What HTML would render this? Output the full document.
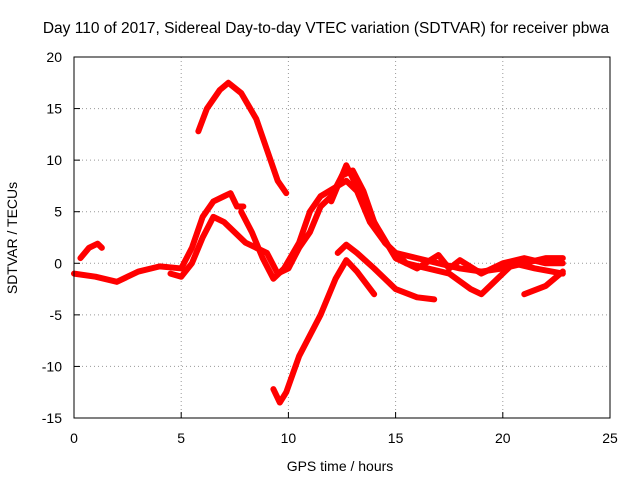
<!DOCTYPE html>
<html><head><meta charset="utf-8"><style>
body{margin:0;background:#fff}
svg{display:block;font-family:"Liberation Sans",sans-serif;font-size:14px}
</style></head><body>
<svg id="chart" width="640" height="480" viewBox="0 0 640 480">
<text x="326" y="33" text-anchor="middle" font-size="15.5">Day 110 of 2017, Sidereal Day-to-day VTEC variation (SDTVAR) for receiver pbwa</text>
<text x="340" y="471" text-anchor="middle">GPS time / hours</text>
<text transform="translate(17,238) rotate(-90)" text-anchor="middle">SDTVAR / TECUs</text>
<g id="grid"></g><g id="series"></g>
<rect x="74" y="57" width="536" height="361" fill="none" stroke="#000"/>
</svg>
<script>
const xTicks=[0,5,10,15,20,25];
const yTicks=[20,15,10,5,0,-5,-10,-15];
const arcTop=[[5.8,12.8],[6.2,15],[6.8,16.8],[7.2,17.5],[7.8,16.5],[8.5,14],[9,11],[9.5,8],[9.9,6.8]];
const vBottom=[[9.3,-12.2],[9.6,-13.5],[9.9,-12.5],[10.5,-9],[11.5,-5],[12.2,-1.5],[12.7,0.3],[13.2,-0.8],[14,-3]];
const peakTail=[[12.3,1],[12.7,1.8],[13.2,1],[14,-0.5],[15,-2.5],[16,-3.3],[16.8,-3.5]];
const early=[[0,-1],[1,-1.3],[2,-1.8],[3,-0.8],[4,-0.3],[5,-0.5],[5.5,1.5],[6,4.5],[6.5,6],[7,6.5],[7.3,6.8],[7.6,5.5],[7.9,5.5]];
const mainA=[[4.5,-1],[5,-1.3],[5.5,0],[6,2.5],[6.5,4.5],[7,4],[8,2],[9,1],[9.5,-1],[10,-0.5],[10.5,1.5],[11,3],[11.5,5.5],[12,6.5],[12.5,8.5],[13,9],[13.5,7],[14,4],[14.5,2],[15,1],[16,0.5],[17,0],[18,-0.5],[19,-0.8],[20,-0.5],[21,0],[22,0.5],[22.8,0.5]];
const mainB=[[7.8,5],[8.3,3],[8.8,0.5],[9.3,-1.5],[9.8,-0.5],[10.5,2],[11,5],[11.5,6.5],[12.3,7.5],[12.7,8],[13.2,7],[13.8,4],[14.5,2],[15.5,0],[16.5,-0.5],[17.5,-1],[18.5,-2.5],[19,-3],[19.5,-2],[20.5,0],[21.5,-0.5],[22.8,-1]];
const mainC=[[12,6],[12.7,9.5],[13.3,7],[14,4],[15,0.5],[16,-0.5],[17,0.8],[17.5,-0.5],[18,0.3],[19,-1],[20,0],[21,0.5],[22,0],[22.8,0]];
const lateTail=[[21,-3],[22,-2.2],[22.8,-0.8]];
const startBit=[[0.3,0.5],[0.7,1.5],[1.1,1.9],[1.3,1.5]];
const allSeries=[arcTop,vBottom,peakTail,early,mainA,mainB,mainC,lateTail,startBit];
const X=v=>74+v*(536/25), Y=v=>418-(v+15)*(361/35);
const NS="http://www.w3.org/2000/svg";
const grid=document.getElementById('grid'), ser=document.getElementById('series');
function mk(t,a,p){const e=document.createElementNS(NS,t);for(const k in a)e.setAttribute(k,a[k]);p.appendChild(e);return e;}
xTicks.forEach(v=>{
 if(v>0&&v<25){const l=mk('line',{x1:X(v),x2:X(v),y1:57,y2:418,stroke:'#999','stroke-dasharray':'1,3'},grid);
 
 }
 const t=mk('text',{x:X(v),y:443,'text-anchor':'middle'},grid);t.textContent=v;
 
 
 mk('line',{x1:X(v),x2:X(v),y1:418,y2:412,stroke:'#000'},grid);
});
yTicks.forEach(v=>{
 if(v>-15&&v<20){const l=mk('line',{x1:74,x2:610,y1:Y(v),y2:Y(v),stroke:'#999','stroke-dasharray':'1,3'},grid);
 
 }
 const t=mk('text',{x:62,y:Y(v)+5,'text-anchor':'end'},grid);t.textContent=v;
 
 
 mk('line',{x1:74,x2:80,y1:Y(v),y2:Y(v),stroke:'#000'},grid);
});
allSeries.forEach((s,i)=>{
 const p=mk('polyline',{points:s.map(d=>X(d[0])+','+Y(d[1])).join(' '),fill:'none',stroke:'#f00','stroke-width':6,'stroke-linejoin':'round','stroke-linecap':'round'},ser);
 
 
});
</script>
</body></html>
